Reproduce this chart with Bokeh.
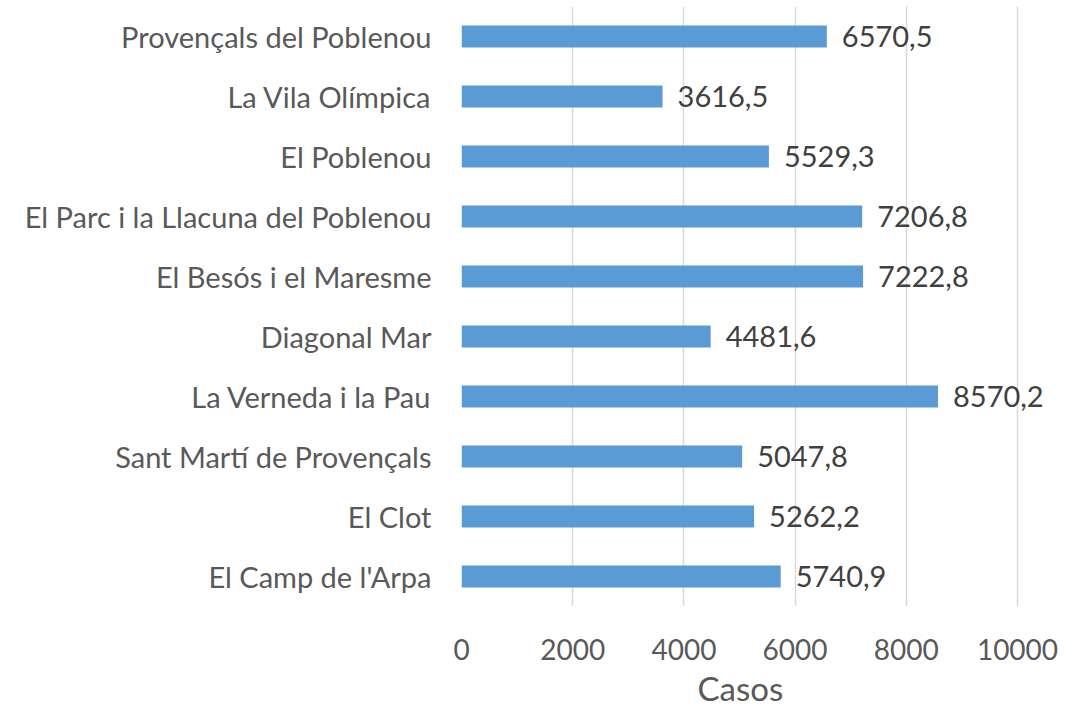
from bokeh.plotting import figure
from bokeh.models import FactorRange, Range1d, ColumnDataSource, FixedTicker, LabelSet, Title
from bokeh.core.properties import value
from bokeh.embed import file_html
from bokeh.resources import INLINE

# Data (top-to-bottom as shown)
neighbourhoods = [
    "Provençals del Poblenou",
    "La Vila Olímpica",
    "El Poblenou",
    "El Parc i la Llacuna del Poblenou",
    "El Besós i el Maresme",
    "Diagonal Mar",
    "La Verneda i la Pau",
    "Sant Martí de Provençals",
    "El Clot",
    "El Camp de l'Arpa",
]
casos = [6570.5, 3616.5, 5529.3, 7206.8, 7222.8, 4481.6, 8570.2, 5047.8, 5262.2, 5740.9]
x_ticks = [0, 2000, 4000, 6000, 8000, 10000]
x_max = 10000
x_title = "Casos"

FONT = "Lato"
LABEL_GRAY = "#595959"
DATA_GRAY = "#404040"
BAR_COLOR = "#5B9BD5"

factors = list(reversed(neighbourhoods))
labels = [f"{v:.1f}".replace(".", ",") for v in casos]
src = ColumnDataSource(dict(y=neighbourhoods, x=casos, label=labels))

W, H = 1068, 712
F_LEFT, F_AXIS_END, F_TOP, F_BOTTOM = 461, 1017, 6, 606
# extend the frame to the right edge so that data labels are not clipped,
# keeping the 0..x_max axis span at the same pixel positions
x_end = x_max * (W - F_LEFT) / (F_AXIS_END - F_LEFT)

p = figure(
    width=W, height=H,
    y_range=FactorRange(factors=factors),
    x_range=Range1d(0, x_end),
    output_backend="svg",
    toolbar_location=None,
    min_border_left=F_LEFT, min_border_right=0,
    min_border_top=F_TOP, min_border_bottom=H - F_BOTTOM,
)
p.outline_line_color = None
p.background_fill_color = "white"
p.border_fill_color = "white"

p.hbar(y="y", right="x", left=0, height=0.367, source=src,
       fill_color=BAR_COLOR, line_color=None)

p.add_layout(LabelSet(x="x", y="y", text="label", source=src, x_offset=15,
                      text_baseline="middle", text_align="left",
                      text_font=value(FONT), text_font_size="29px",
                      text_color=DATA_GRAY))

# x axis
p.xaxis.ticker = FixedTicker(ticks=x_ticks)
p.xaxis.axis_line_color = None
p.xaxis.major_tick_line_color = None
p.xaxis.minor_tick_line_color = None
p.xaxis.major_label_text_font = FONT
p.xaxis.major_label_text_font_size = "28px"
p.xaxis.major_label_text_color = LABEL_GRAY
p.xaxis.major_label_standoff = 26

p.add_layout(Title(text=x_title, align="left", offset=236,
                   text_font=FONT, text_font_size="33px",
                   text_font_style="normal", text_color=LABEL_GRAY,
                   standoff=6), "below")

# y axis
p.yaxis.axis_line_color = None
p.yaxis.major_tick_line_color = None
p.yaxis.minor_tick_line_color = None
p.yaxis.major_label_text_font = FONT
p.yaxis.major_label_text_font_size = "29px"
p.yaxis.major_label_text_color = LABEL_GRAY
p.yaxis.major_label_standoff = 24

# grid
p.ygrid.grid_line_color = None
p.xgrid.grid_line_color = "#D9D9D9"
p.xgrid.grid_line_width = 1.5

open("out.html", "w").write(file_html(p, INLINE))
